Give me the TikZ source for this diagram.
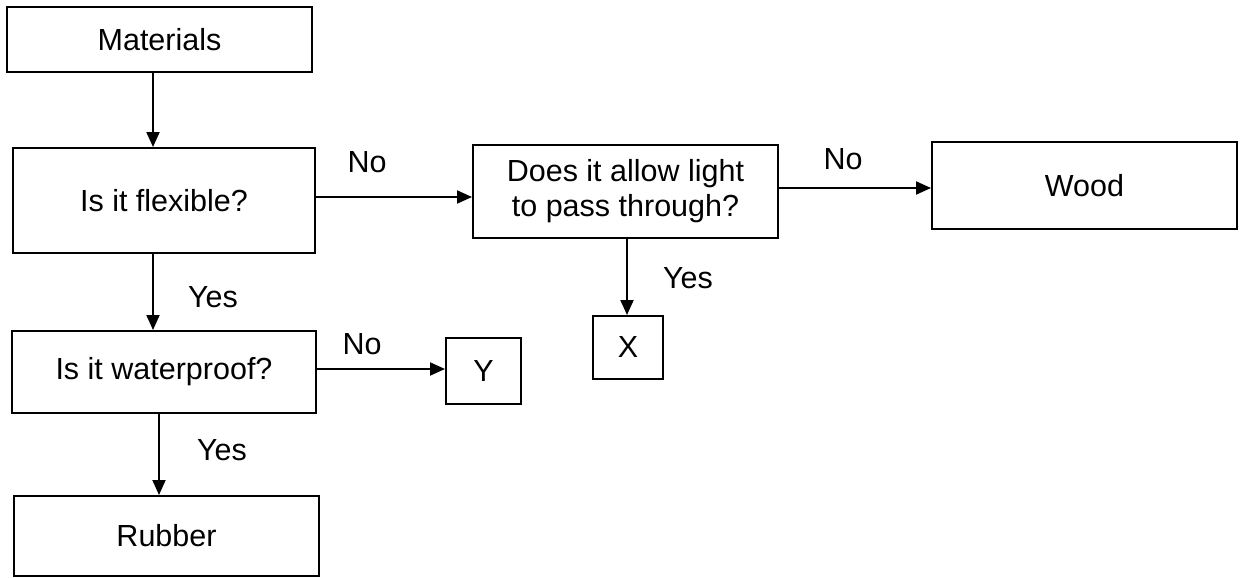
\documentclass[tikz,border=0pt]{standalone}
\usepackage{fontspec}
\setmainfont{Liberation Sans}
\usetikzlibrary{arrows.meta}
\begin{document}
\begin{tikzpicture}[x=1pt,y=-1pt,
  box/.style={draw,line width=2pt,inner sep=0pt,align=center,font=\fontsize{30.5}{35}\selectfont},
  lbl/.style={inner sep=0pt,font=\fontsize{30.5}{35}\selectfont},
  arr/.style={line width=2pt,-{Triangle[length=15pt,width=13pt]}}]
\useasboundingbox (0,0) rectangle (1243,578);
\node[box,minimum width=305pt,minimum height=65pt] (mat) at (159.5,39.5) {Materials};
\node[box,minimum width=302pt,minimum height=105pt] (flex) at (164,200.5) {Is it flexible?};
\node[box,minimum width=305pt,minimum height=93pt] (light) at (625.5,191.5) {Does it allow light\\to pass through?};
\node[box,minimum width=305pt,minimum height=87pt] (wood) at (1084.5,185.5) {Wood};
\node[box,minimum width=304pt,minimum height=82pt] (water) at (164,372) {Is it waterproof?};
\node[box,minimum width=75pt,minimum height=66pt] (Y) at (483.5,371) {Y};
\node[box,minimum width=70pt,minimum height=63pt] (X) at (628,347.5) {X};
\node[box,minimum width=305pt,minimum height=80pt] (rubber) at (166.5,536) {Rubber};
\draw[arr] (mat.south -| 153,0) -- (flex.north -| 153,0);
\draw[arr] (flex.east |- 0,197) -- (light.west |- 0,197);
\draw[arr] (light.east |- 0,188) -- (wood.west |- 0,188);
\draw[arr] (light.south -| 627,0) -- (X.north -| 627,0);
\draw[arr] (flex.south -| 153,0) -- (water.north -| 153,0);
\draw[arr] (water.east |- 0,369) -- (Y.west |- 0,369);
\draw[arr] (water.south -| 159,0) -- (rubber.north -| 159,0);
\node[lbl] (no1) at (367,162) {No};
\node[lbl] (no2) at (843,159) {No};
\node[lbl] (no3) at (362,344) {No};
\node[lbl] (yes1) at (688,278) {Yes};
\node[lbl] (yes2) at (213,297) {Yes};
\node[lbl] (yes3) at (222,450) {Yes};
\end{tikzpicture}
\end{document}
